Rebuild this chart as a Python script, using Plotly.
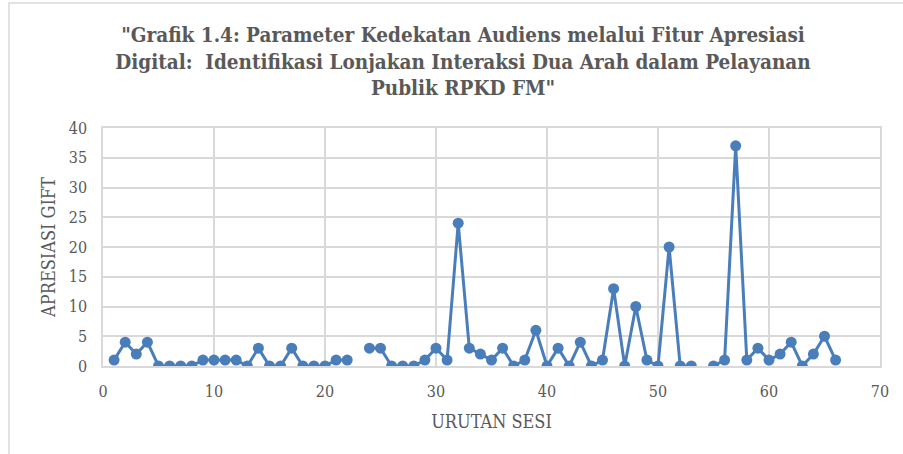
import plotly.graph_objects as go

sesi = list(range(1, 67))
gift = [1, 4, 2, 4, 0, 0, 0, 0, 1, 1,
        1, 1, 0, 3, 0, 0, 3, 0, 0, 0,
        1, 1, None, 3, 3, 0, 0, 0, 1, 3,
        1, 24, 3, 2, 1, 3, 0, 1, 6, 0,
        3, 0, 4, 0, 1, 13, 0, 10, 1, 0,
        20, 0, 0, None, 0, 1, 37, 1, 3, 1,
        2, 4, 0, 2, 5, 1]

x_ticks = [0, 10, 20, 30, 40, 50, 60, 70]
y_ticks = [0, 5, 10, 15, 20, 25, 30, 35, 40]

title_text = ('"Grafik 1.4: Parameter Kedekatan Audiens melalui Fitur Apresiasi<br>'
              'Digital:  Identifikasi Lonjakan Interaksi Dua Arah dalam Pelayanan<br>'
              'Publik RPKD FM"')

W, H = 903, 454
L, R, T, B = 103, 23, 128, 88

fig = go.Figure()
fig.add_trace(go.Scatter(
    x=sesi, y=gift, mode="lines+markers",
    line=dict(color="#4a7ebb", width=3),
    marker=dict(color="#4a7ebb", size=11),
    connectgaps=False, showlegend=False,
))

font_family = "DejaVu Serif Condensed, DejaVu Serif, serif"
gray = "#595959"
grid = "#d9d9d9"

fig.update_layout(
    width=W, height=H,
    margin=dict(l=L, r=R, t=T, b=B, autoexpand=False),
    paper_bgcolor="white", plot_bgcolor="white",
    title=dict(text="<b>" + title_text + "</b>", x=463 / W, xanchor="center",
               y=1 - 42 / H, yanchor="top",
               font=dict(family=font_family, size=20.5, color=gray)),
    font=dict(family=font_family, color=gray),
)
fig.update_xaxes(
    range=[0, 70], tickvals=x_ticks, showgrid=True, gridcolor=grid, gridwidth=1.5,
    zeroline=False, showline=True, linecolor=grid, linewidth=1.5, mirror=True,
    tickfont=dict(size=16, color=gray), ticks="", ticklabelstandoff=10, automargin=False,
    title=dict(text="URUTAN SESI", font=dict(size=18, color=gray), standoff=15),
)
fig.update_yaxes(
    range=[0, 40], tickvals=y_ticks, showgrid=True, gridcolor=grid, gridwidth=1.5,
    zeroline=False, showline=True, linecolor=grid, linewidth=1.5, mirror=True,
    tickfont=dict(size=16, color=gray), ticks="", ticklabelstandoff=11, automargin=False,
    title=dict(text="APRESIASI GIFT", font=dict(size=18, color=gray), standoff=8),
)

# chart-area border (light gray frame around the whole chart)
fig.add_shape(type="rect", xref="paper", yref="paper",
              x0=-(L - 9) / (W - L - R), x1=1 + (R + 20) / (W - L - R),
              y0=-(B + 20) / (H - T - B), y1=1 + (T - 3) / (H - T - B),
              line=dict(color="#d9d9d9", width=1.5), layer="below")

fig.write_html("out.html", config={"displayModeBar": False},
               post_script="document.body.style.margin='0';")
